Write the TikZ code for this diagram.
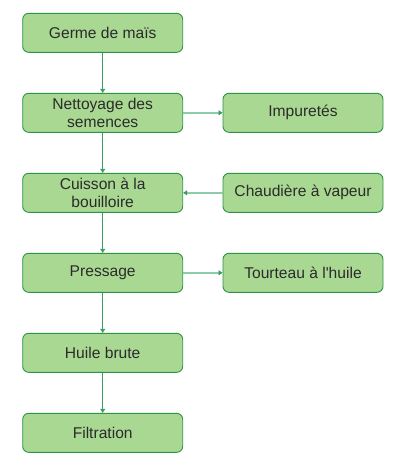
\documentclass[tikz,border=0pt]{standalone}
\usepackage{fontspec}
\setmainfont{Liberation Sans}
\usetikzlibrary{arrows.meta}
\definecolor{boxfill}{HTML}{A9D892}
\definecolor{boxline}{HTML}{2A9448}
\definecolor{vline}{HTML}{3A9A60}
\definecolor{hline}{HTML}{8CCBA6}
\definecolor{txt}{HTML}{2B2B2B}
\begin{document}
\begin{tikzpicture}[x=1pt,y=1pt,
  box/.style={draw=boxline, line width=0.9pt, fill=boxfill, rounded corners=6pt,
    minimum width=160pt, minimum height=39pt, inner sep=0pt, align=center,
    text=txt, font=\fontsize{15.6}{17.8}\selectfont},
  varrow/.style={draw=vline, line width=0.8pt, -{Triangle[length=4pt,width=5pt]}},
  harrow/.style={draw=hline, line width=1.4pt, -{Triangle[length=4pt,width=5pt,color=vline]}}]
\useasboundingbox (0,0) rectangle (406,-466);
\node[box] (a) at (102.7,-32.8) {Germe de maïs};
\node[box] (b) at (102.7,-112.8) {Nettoyage des\\semences};
\node[box] (c) at (102.7,-192.8) {Cuisson à la\\bouilloire};
\node[box] (d) at (102.7,-272.8) {Pressage};
\node[box] (e) at (102.7,-352.8) {Huile brute};
\node[box] (f) at (102.7,-432.8) {Filtration};
\node[box] (g) at (303,-112.8) {Impuretés};
\node[box] (h) at (303,-192.8) {Chaudière à vapeur};
\node[box] (i) at (303,-272.8) {Tourteau à l\textquotesingle huile};
\draw[varrow] (a) -- (b);
\draw[varrow] (b) -- (c);
\draw[varrow] (c) -- (d);
\draw[varrow] (d) -- (e);
\draw[varrow] (e) -- (f);
\draw[harrow] (b) -- (g);
\draw[harrow] (h) -- (c);
\draw[harrow] (d) -- (i);
\end{tikzpicture}
\end{document}
